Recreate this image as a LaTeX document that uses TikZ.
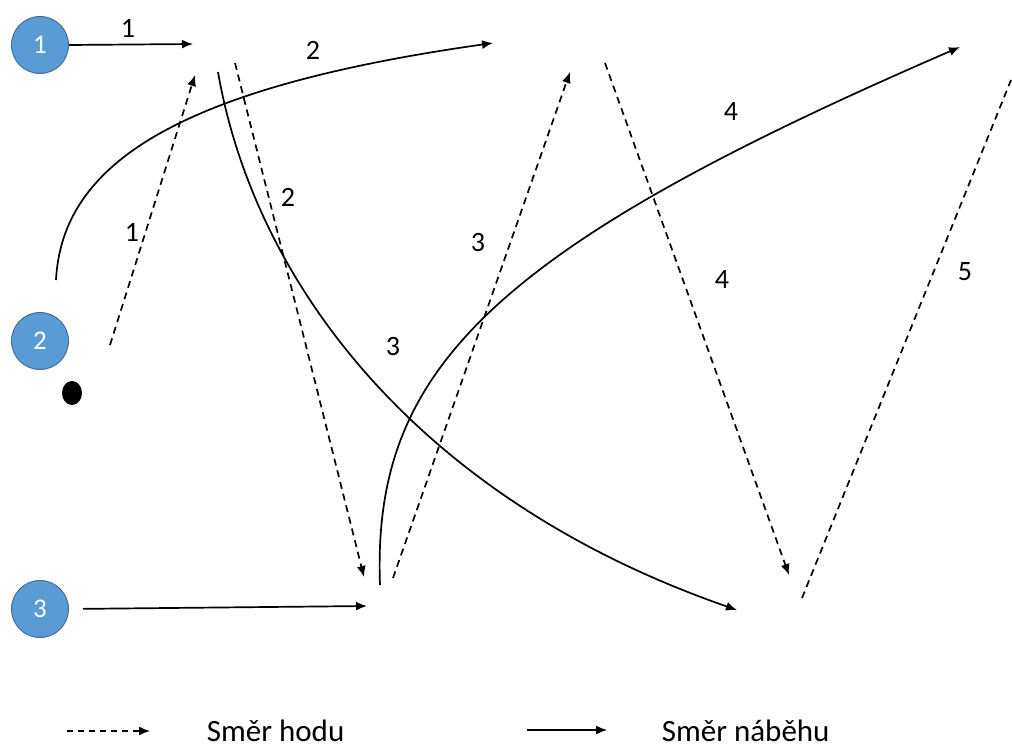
\documentclass[tikz,border=0pt]{standalone}
\usepackage{fontspec}
\setmainfont{Carlito}
\usetikzlibrary{
    arrows.meta,
    positioning
}
\definecolor{hracmodra}{HTML}{5B9BD5}
\definecolor{hracokraj}{HTML}{41719C}
\tikzset{
  hrac/.style={
    circle,
    fill=hracmodra,
    draw=hracokraj,
    line width=1pt,
    minimum size=57pt,
    inner sep=0pt,
    text=white,
    font=\fontsize{27}{31}\selectfont
  },
  cislo/.style={
    font=\fontsize{28}{32}\selectfont,
    inner sep=1pt
  },
  popis/.style={
    font=\fontsize{31}{36}\selectfont,
    inner sep=0pt,
    text depth=0pt,
    anchor=base west
  },
  hod/.style={
    dash pattern=on 7pt off 5pt,
    -{Latex[length=11pt,width=9pt]}
  },
  nabeh/.style={
    -{Latex[length=11pt,width=9pt]}
  }
}

\begin{document}
\begin{tikzpicture}[x=1pt,y=-1pt,line width=1.7pt]
    \useasboundingbox (0,0) rectangle (1012,747);

    % hráči
    \node[hrac] (hrac1) at (40,45) {1};
    \node[hrac] (hrac2) at (40,341) {2};
    \node[hrac] (hrac3) at (40,609) {3};
    \fill (72,393) ellipse [x radius=10, y radius=12];

    % body
    \coordinate (n1) at (193,44);
    \coordinate (h1a) at (110,345);
    \coordinate (h1b) at (195,75);
    \coordinate (n2a) at (56,280);
    \coordinate (n2b) at (493,43);
    \coordinate (n3a) at (218,72);
    \coordinate (n3b) at (737,610);
    \coordinate (h2a) at (235,63);
    \coordinate (h2b) at (364,577);
    \coordinate (n4) at (367,606);
    \coordinate (h3a) at (393,578);
    \coordinate (h3b) at (570,72);
    \coordinate (n5a) at (380,585);
    \coordinate (n5b) at (960,47);
    \coordinate (h4a) at (605,63);
    \coordinate (h4b) at (789,575);
    \coordinate (h5a) at (802,598);
    \coordinate (h5b) at (1011,80);

    % náběhy
    \draw[nabeh] (hrac1.east) -- (n1);
    \draw[nabeh] (n2a) .. controls (62,165) and (175,88) .. (n2b);
    \draw[nabeh] (n3a) .. controls (255,285) and (420,500) .. (n3b);
    \draw[nabeh,shorten <=14pt] (hrac3.east) -- (n4);
    \draw[nabeh] (n5a) .. controls (372,370) and (490,250) .. (n5b);

    % hody
    \draw[hod] (h1a) -- (h1b);
    \draw[hod] (h2a) -- (h2b);
    \draw[hod] (h3a) -- (h3b);
    \draw[hod] (h4a) -- (h4b);
    \draw[dash pattern=on 7pt off 5pt] (h5a) -- (h5b);

    % čísla
    \node[cislo] (c1) at (128,28) {1};
    \node[cislo] (c2) at (313,50) {2};
    \node[cislo] (c3) at (132,232) {1};
    \node[cislo] (c4) at (288,197) {2};
    \node[cislo] (c5) at (478,243) {3};
    \node[cislo] (c6) at (393,347) {3};
    \node[cislo] (c7) at (731,112) {4};
    \node[cislo] (c8) at (722,280) {4};
    \node[cislo] (c9) at (965,272) {5};

    % legenda
    \coordinate (lh1) at (67,731);
    \coordinate (lh2) at (150,731);
    \coordinate (ln1) at (527,730);
    \coordinate (ln2) at (607,730);
    \draw[hod,line width=1.4pt,dash pattern=on 6pt off 5pt] (lh1) -- (lh2);
    \draw[nabeh,line width=1.4pt] (ln1) -- (ln2);
    \node[popis] (hod) at (206,741) {Směr hodu};
    \node[popis] (nabeh) at (661,741) {Směr náběhu};
\end{tikzpicture}
\end{document}
